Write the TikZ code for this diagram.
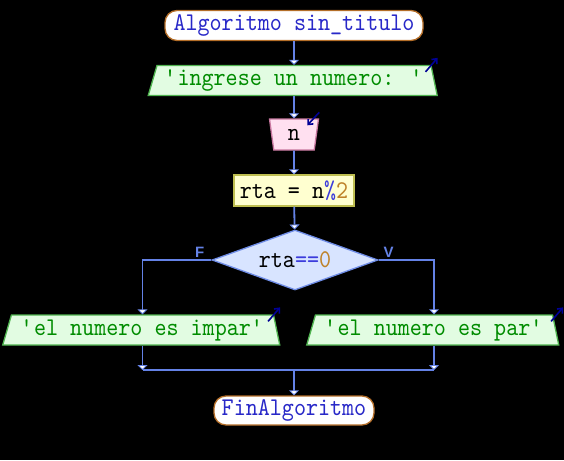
\documentclass[tikz,border=0pt]{standalone}
\usepackage{fontspec}
\newfontfamily\psfont{lmmono10-regular.otf}[FakeStretch=0.9]
\newfontfamily\lblfont{Liberation Sans}
\usetikzlibrary{shapes.geometric,arrows.meta,calc}
\definecolor{flowcol}{RGB}{100,130,230}
\definecolor{termborder}{RGB}{180,110,40}
\definecolor{termtext}{RGB}{40,40,200}
\definecolor{outfill}{RGB}{226,252,226}
\definecolor{outborder}{RGB}{80,180,80}
\definecolor{outtext}{RGB}{0,140,0}
\definecolor{infill}{RGB}{255,224,240}
\definecolor{inborder}{RGB}{200,120,160}
\definecolor{asfill}{RGB}{255,255,208}
\definecolor{asborder}{RGB}{190,190,80}
\definecolor{decfill}{RGB}{216,228,255}
\definecolor{decborder}{RGB}{110,140,230}
\definecolor{numcol}{RGB}{190,130,40}
\definecolor{opcol}{RGB}{60,60,220}
\definecolor{iconcol}{RGB}{0,0,150}
\tikzset{
  txt/.style={font=\psfont\fontsize{25.5}{25.5}\selectfont, inner sep=0pt},
  terminal/.style={txt, draw=termborder, fill=white, line width=1.3pt,
    rounded corners=12pt, minimum height=30, text=termtext},
  salida/.style={txt, trapezium, trapezium stretches body, trapezium left angle=68,
    trapezium right angle=74, draw=outborder, fill=outfill, line width=1.3pt,
    minimum height=30, text=outtext},
  entrada/.style={txt, trapezium, trapezium stretches body, trapezium left angle=111,
    trapezium right angle=111, draw=inborder, fill=infill, line width=1.3pt,
    minimum height=31, minimum width=49},
  asigna/.style={txt, draw=asborder, fill=asfill, line width=1.3pt,
    minimum height=31, minimum width=120},
  decision/.style={txt, diamond, aspect=2.77, draw=decborder, fill=decfill,
    line width=1.3pt, minimum width=166, minimum height=60},
  flow/.style={draw=flowcol, line width=1.8pt,
    -{Triangle[width=10pt,length=5pt,fill=white,line width=0.8pt]}},
  line/.style={draw=flowcol, line width=1.8pt},
  lbl/.style={font=\lblfont\bfseries\fontsize{15}{15}\selectfont, text=flowcol, inner sep=1.5pt},
  icon/.style={draw=iconcol, line width=1.6pt, -{Straight Barb[length=4pt,width=7pt]}}
}
\begin{document}
\begin{tikzpicture}[x=1pt,y=-1pt]%[scale=0.9]
  \fill[black] (0,0) rectangle (564,460);
  \useasboundingbox (0,0) rectangle (564,460);
  % nodos del diagrama
  \node[terminal, minimum width=258] (ini) at (294,25.5) {Algoritmo sin\_titulo};
  \node[salida, minimum width=289] (out1) at (294,80.5) {\textquotesingle ingrese un numero: \textquotesingle};
  \node[entrada] (leer) at (294,134.5) {n};
  \node[asigna] (rta) at (294,190.5) {rta = n\textcolor{opcol}{\%}\textcolor{numcol}{2}};
  \node[decision] (dec) at (295,260) {rta\textcolor{opcol}{==}\textcolor{numcol}{0}};
  \node[salida, minimum width=277] (outL) at (142.5,330) {\textquotesingle el numero es impar\textquotesingle};
  \node[salida, minimum width=252] (outR) at (434,330) {\textquotesingle el numero es par\textquotesingle};
  \node[terminal, minimum width=160, minimum height=29] (fin) at (294,410.5) {FinAlgoritmo};
  \coordinate (jL) at (142.5,370);
  \coordinate (jR) at (434,370);
  \coordinate (junta) at (294,370);
  % conectores
  \draw[flow] (ini) -- (out1);
  \draw[flow] (out1) -- (leer);
  \draw[flow] (leer) -- (rta);
  \draw[flow] (rta) -- (dec);
  \draw[flow] (dec.west) -| node[lbl, pos=0.085, above] (F) {F} (outL);
  \draw[flow] (dec.east) -| node[lbl, pos=0.09, above] (V) {V} (outR);
  \draw[flow] (outL) -- (jL);
  \draw[flow] (outR) -- (jR);
  \draw[line] (jL) -- (jR);
  \draw[flow] (junta) -- (fin);
  % flechas de entrada/salida
  \draw[icon] ([shift={(-6,7)}]out1.top right corner) -- ++(12,-14);
  \draw[icon] ([shift={(-6,7)}]outL.top right corner) -- ++(12,-14);
  \draw[icon] ([shift={(-2,7)}]outR.top right corner) -- ++(12,-14);
  \draw[icon] ([shift={(0,-6)}]leer.top right corner) -- ++(-12,13);
\end{tikzpicture}
\end{document}
